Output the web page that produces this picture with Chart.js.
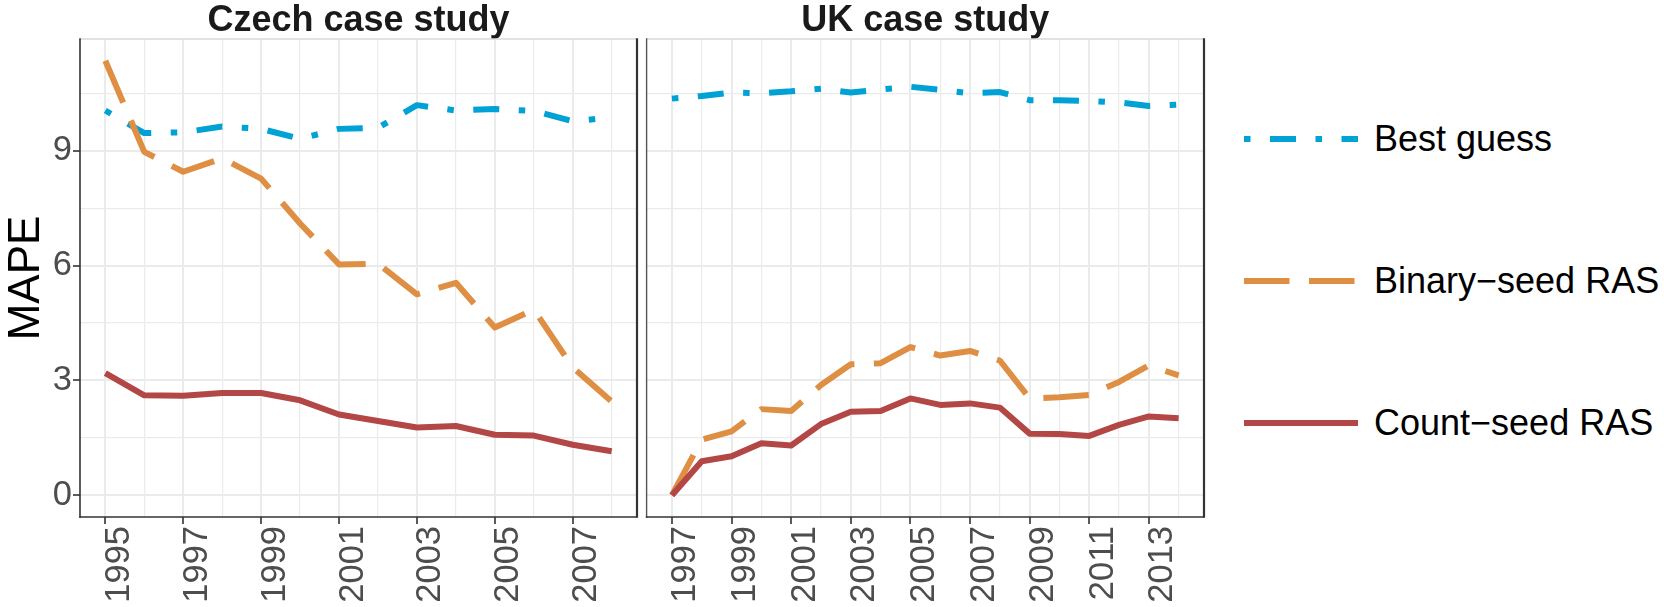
<!DOCTYPE html>
<html>
<head>
<meta charset="utf-8">
<title>MAPE by year – Czech and UK case studies</title>
<script src="https://cdn.jsdelivr.net/npm/chart.js@4/dist/chart.umd.min.js"></script>
<style>
  html, body { margin: 0; padding: 0; background: #ffffff; }
  #wrap {
    position: relative; width: 1664px; height: 607px; overflow: hidden;
    font-family: "Liberation Sans", Arial, Helvetica, sans-serif;
  }
  canvas { position: absolute; top: 0; }
  #czech { left: 0; }
  #uk { left: 640px; }
  .key-line { position: absolute; left: 1244px; }
  .key-text {
    position: absolute; left: 1374px; font-size: 36px; line-height: 36px;
    color: #000000; white-space: nowrap;
  }
</style>
</head>
<body>
<div id="wrap">
  <canvas id="czech" width="640" height="607"></canvas>
  <canvas id="uk" width="570" height="607"></canvas>
  <div id="legend"></div>
</div>
<script>
// ---- Czech case study ----
const czechYears = [1995, 1996, 1997, 1998, 1999, 2000, 2001, 2002, 2003, 2004, 2005, 2006, 2007, 2008];
const czechYearLabels = [1995, 1997, 1999, 2001, 2003, 2005, 2007];
const czechBestGuess   = [10.05, 9.46, 9.48, 9.63, 9.57, 9.31, 9.57, 9.60, 10.19, 10.05, 10.09, 10.04, 9.77, 9.87];
const czechBinarySeed  = [11.35, 8.97, 8.45, 8.80, 8.27, 7.10, 6.03, 6.05, 5.25, 5.55, 4.38, 4.85, 3.34, 2.45];
const czechCountSeed   = [3.19, 2.61, 2.60, 2.67, 2.67, 2.48, 2.11, 1.94, 1.77, 1.81, 1.58, 1.56, 1.32, 1.15];

// ---- UK case study ----
const ukYears = [1997, 1998, 1999, 2000, 2001, 2002, 2003, 2004, 2005, 2006, 2007, 2008, 2009, 2010, 2011, 2012, 2013, 2014];
const ukYearLabels = [1997, 1999, 2001, 2003, 2005, 2007, 2009, 2011, 2013];
const ukBestGuess  = [10.36, 10.43, 10.52, 10.50, 10.55, 10.62, 10.52, 10.60, 10.67, 10.59, 10.50, 10.53, 10.32, 10.32, 10.30, 10.26, 10.17, 10.20];
const ukBinarySeed = [0.00, 1.45, 1.67, 2.25, 2.20, 2.88, 3.42, 3.45, 3.87, 3.65, 3.77, 3.52, 2.53, 2.56, 2.62, 2.96, 3.39, 3.13];
const ukCountSeed  = [0.00, 0.89, 1.02, 1.36, 1.30, 1.86, 2.18, 2.20, 2.53, 2.36, 2.40, 2.29, 1.61, 1.60, 1.55, 1.84, 2.06, 2.01];

// ---- shared value axis ----
const yTickLabels = [0, 3, 6, 9];
const yGridValues = [0, 1.5, 3, 4.5, 6, 7.5, 9, 10.5];

// ---- series names, colours and line types ----
const seriesNames  = ['Best guess', 'Binary\u2212seed RAS', 'Count\u2212seed RAS'];
const seriesColors = ['#00A1D5', '#DF8F44', '#B24745'];
const seriesDash   = [[6.5, 19.5, 26, 19.5], [45.5, 19.5], []];
const panelTitles  = ['Czech case study', 'UK case study'];

const FONT = '"Liberation Sans", Arial, Helvetica, sans-serif';
const GRID = '#EBEBEB';
const AXIS = '#333333';
const TICK_TEXT = '#4D4D4D';

// Plot the three series for one panel; the y range is padded by 5% as in the original figure.
const dataMax = 11.35, dataMin = 0;
const yPad = (dataMax - dataMin) * 0.05;

// Frame around each panel: light top edge, dark left/bottom/right edges.
const panelFrame = {
  id: 'panelFrame',
  afterDraw(chart, args, opts) {
    const { ctx, chartArea: a } = chart;
    const seg = (x1, y1, x2, y2) => { ctx.beginPath(); ctx.moveTo(x1, y1); ctx.lineTo(x2, y2); ctx.stroke(); };
    ctx.save();
    ctx.strokeStyle = '#D9D9D9';
    ctx.lineWidth = 1.4;
    seg(a.left, a.top, a.right, a.top);
    ctx.strokeStyle = opts.leftColor || AXIS;
    ctx.lineWidth = opts.leftWidth || 1.6;
    seg(a.left, a.top - 0.7, a.left, a.bottom + 0.8);
    ctx.strokeStyle = AXIS;
    ctx.lineWidth = 1.6;
    seg(a.left - 0.8, a.bottom, a.right, a.bottom);
    ctx.lineWidth = 2.2;
    seg(a.right, a.top - 0.7, a.right, a.bottom + 0.8);
    ctx.restore();
  }
};

function makePanel(canvasId, years, yearLabels, best, binary, count, title, cfg) {
  const pts = vals => years.map((yr, i) => ({ x: yr, y: vals[i] }));
  const series = [best, binary, count];
  // Count-seed drawn on top, best guess underneath.
  const datasets = series.map((vals, k) => ({
    label: seriesNames[k],
    data: pts(vals),
    borderColor: seriesColors[k],
    backgroundColor: seriesColors[k],
    borderWidth: 6,
    borderDash: seriesDash[k],
    borderCapStyle: 'butt',
    borderJoinStyle: 'round',
    pointRadius: 0,
    pointHoverRadius: 0,
    tension: 0,
    fill: false,
    order: 2 - k
  }));
  const span = years[years.length - 1] - years[0];
  const xPad = span * 0.05;

  return new Chart(document.getElementById(canvasId), {
    type: 'line',
    data: { datasets },
    plugins: [panelFrame],
    options: {
      responsive: false,
      animation: false,
      devicePixelRatio: 1,
      layout: { padding: { left: 0, right: cfg.padRight, top: 0, bottom: 0 } },
      plugins: {
        legend: { display: false },
        tooltip: { enabled: false },
        title: {
          display: true,
          text: title,
          fullSize: false,
          color: '#1A1A1A',
          font: { family: FONT, size: 36, weight: 'bold', lineHeight: 1 },
          padding: { top: 3, bottom: 0 }
        },
        panelFrame: { leftColor: cfg.leftColor, leftWidth: cfg.leftWidth }
      },
      scales: {
        x: {
          type: 'linear',
          min: years[0] - xPad,
          max: years[years.length - 1] + xPad,
          afterBuildTicks: s => { s.ticks = years.map(v => ({ value: v })); },
          afterFit: s => { s.height = 90; s.paddingLeft = 0; s.paddingRight = 0; },
          border: { display: false },
          grid: {
            color: GRID,
            lineWidth: c => (c.tick && yearLabels.includes(c.tick.value)) ? 2 : 1.2,
            drawTicks: true,
            tickLength: 7,
            tickWidth: 1.6,
            tickColor: c => (c.tick && yearLabels.includes(c.tick.value)) ? AXIS : 'rgba(0,0,0,0)'
          },
          ticks: {
            autoSkip: false,
            minRotation: 90,
            maxRotation: 90,
            padding: 2,
            labelOffset: 14,
            color: TICK_TEXT,
            font: { family: FONT, size: 34.5 },
            callback: v => yearLabels.includes(v) ? String(v) : ''
          }
        },
        y: {
          type: 'linear',
          min: dataMin - yPad,
          max: dataMax + yPad,
          afterBuildTicks: s => { s.ticks = yGridValues.map(v => ({ value: v })); },
          afterFit: s => { s.width = cfg.yWidth; s.paddingTop = 0; s.paddingBottom = 0; },
          border: { display: false },
          grid: {
            color: GRID,
            lineWidth: c => (c.tick && yTickLabels.includes(c.tick.value)) ? 2 : 1.2,
            drawTicks: cfg.showY,
            tickLength: 7,
            tickWidth: 1.6,
            tickColor: c => (c.tick && yTickLabels.includes(c.tick.value)) ? AXIS : 'rgba(0,0,0,0)'
          },
          ticks: {
            display: cfg.showY,
            padding: 1,
            color: TICK_TEXT,
            font: { family: FONT, size: 34.5 },
            callback: v => yTickLabels.includes(v) ? String(v) : ''
          },
          title: {
            display: cfg.showY,
            text: 'MAPE',
            color: '#000000',
            font: { family: FONT, size: 44 },
            padding: 0
          }
        }
      }
    }
  });
}

makePanel('czech', czechYears, czechYearLabels, czechBestGuess, czechBinarySeed, czechCountSeed, panelTitles[0],
  { yWidth: 80, showY: true, padRight: 3, leftColor: AXIS, leftWidth: 1.6 });
makePanel('uk', ukYears, ukYearLabels, ukBestGuess, ukBinarySeed, ukCountSeed, panelTitles[1],
  { yWidth: 6.6, showY: false, padRight: 6, leftColor: '#555555', leftWidth: 1.4 });

// Legend: line-type keys with their labels.
const keyCentres = [139.3, 281, 423.3];
const legend = document.getElementById('legend');
const svgNS = 'http://www.w3.org/2000/svg';
seriesNames.forEach((name, k) => {
  const svg = document.createElementNS(svgNS, 'svg');
  svg.setAttribute('class', 'key-line');
  svg.setAttribute('width', '114');
  svg.setAttribute('height', '10');
  svg.style.top = (keyCentres[k] - 5) + 'px';
  const ln = document.createElementNS(svgNS, 'line');
  ln.setAttribute('x1', '0'); ln.setAttribute('y1', '5');
  ln.setAttribute('x2', '114'); ln.setAttribute('y2', '5');
  ln.setAttribute('stroke', seriesColors[k]);
  ln.setAttribute('stroke-width', '6');
  if (seriesDash[k].length) ln.setAttribute('stroke-dasharray', seriesDash[k].join(' '));
  svg.appendChild(ln);
  legend.appendChild(svg);
  const txt = document.createElement('div');
  txt.className = 'key-text';
  txt.style.top = (keyCentres[k] - 18) + 'px';
  txt.textContent = name;
  legend.appendChild(txt);
});
</script>
</body>
</html>
